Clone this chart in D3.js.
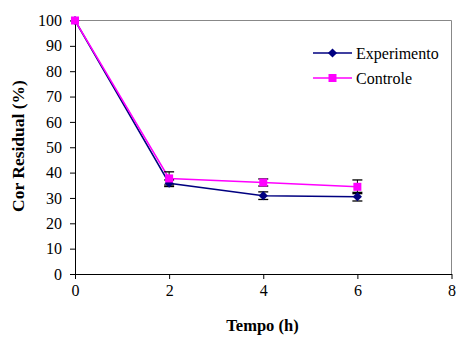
<!DOCTYPE html>
<html><head><meta charset="utf-8">
<script src="https://cdn.jsdelivr.net/npm/d3@7"></script>
<style>body{margin:0;background:#fff}svg{display:block}</style>
</head><body>
<script>
const times = [0, 2, 4, 6];
const expValues = [100, 35.8, 30.9, 30.5];
const expErr = [0, 1.3, 1.5, 1.7];
const ctrlValues = [100, 37.7, 36.1, 34.4];
const ctrlErr = [0, 2.6, 1.4, 2.7];
const xTicks = [0, 2, 4, 6, 8];
const yTicks = [0, 10, 20, 30, 40, 50, 60, 70, 80, 90, 100];
const seriesNames = ["Experimento", "Controle"];

const W = 459, H = 340;
const svg = d3.select("body").append("svg").attr("width", W).attr("height", H);
const x = d3.scaleLinear().domain([0, 8]).range([75, 451.5]);
const y = d3.scaleLinear().domain([0, 100]).range([274, 20.5]);
const font = "'Liberation Serif','Times New Roman',serif";

// frame top/right
svg.append("path").attr("d", `M${x(0)},${y(100)}H${x(8)}V${y(0)}`)
  .attr("fill", "none").attr("stroke", "#888").attr("stroke-width", 1);

const xa = svg.append("g").attr("transform", `translate(0,${y(0)})`)
  .call(d3.axisBottom(x).tickValues(xTicks).tickSize(5).tickSizeOuter(0));
const ya = svg.append("g").attr("transform", `translate(${x(0)},0)`)
  .call(d3.axisLeft(y).tickValues(yTicks).tickSize(5).tickSizeOuter(0).tickPadding(8));
[xa, ya].forEach(a => {
  a.selectAll("path,line").attr("stroke", "#000");
  a.selectAll("text").attr("font-family", font).attr("font-size", 16).attr("fill", "#000");
});
xa.selectAll("text").attr("dy", "0.85em");

svg.append("text").attr("x", 262.5).attr("y", 331).attr("text-anchor", "middle")
  .attr("font-family", font).attr("font-weight", "bold").attr("font-size", 16.5).text("Tempo (h)");
svg.append("text").attr("transform", "translate(24,146) rotate(-90)").attr("text-anchor", "middle")
  .attr("font-family", font).attr("font-weight", "bold").attr("font-size", 17.5).text("Cor Residual (%)");

const series = [
  {name: seriesNames[0], vals: expValues, err: expErr, color: "#000080", rot: 45, size: 42},
  {name: seriesNames[1], vals: ctrlValues, err: ctrlErr, color: "#FF00FF", rot: 0, size: 64}
];
const line = d3.line().x((d, i) => x(times[i])).y(d => y(d));

series.forEach(s => {
  svg.append("path").datum(s.vals).attr("d", line).attr("fill", "none")
    .attr("stroke", s.color).attr("stroke-width", 1.5);
});
// error bars
series.forEach(s => {
  const g = svg.append("g");
  s.vals.forEach((v, i) => {
    if (!s.err[i]) return;
    const cx = x(times[i]), t = y(v + s.err[i]), b = y(v - s.err[i]);
    g.append("line").attr("x1", cx).attr("x2", cx).attr("y1", t).attr("y2", b).attr("stroke", "#000");
    [t, b].forEach(yy => g.append("line").attr("x1", cx - 5).attr("x2", cx + 5).attr("y1", yy).attr("y2", yy)
      .attr("stroke", "#000").attr("stroke-width", 1.3));
  });
});
series.forEach(s => {
  svg.append("g").selectAll("path").data(s.vals).join("path")
    .attr("transform", (d, i) => `translate(${x(times[i])},${y(d)}) rotate(${s.rot})`)
    .attr("d", d3.symbol().type(d3.symbolSquare).size(s.size)).attr("fill", s.color);
});

// legend
series.forEach((s, i) => {
  const ly = 53 + i * 25;
  svg.append("line").attr("x1", 313).attr("x2", 352).attr("y1", ly).attr("y2", ly)
    .attr("stroke", s.color).attr("stroke-width", 1.5);
  svg.append("path").attr("transform", `translate(332.5,${ly}) rotate(${s.rot})`)
    .attr("d", d3.symbol().type(d3.symbolSquare).size(s.size)).attr("fill", s.color);
  svg.append("text").attr("x", 356).attr("y", ly + 5.5).attr("font-family", font).attr("font-size", 16)
    .text(s.name);
});
</script>
</body></html>
